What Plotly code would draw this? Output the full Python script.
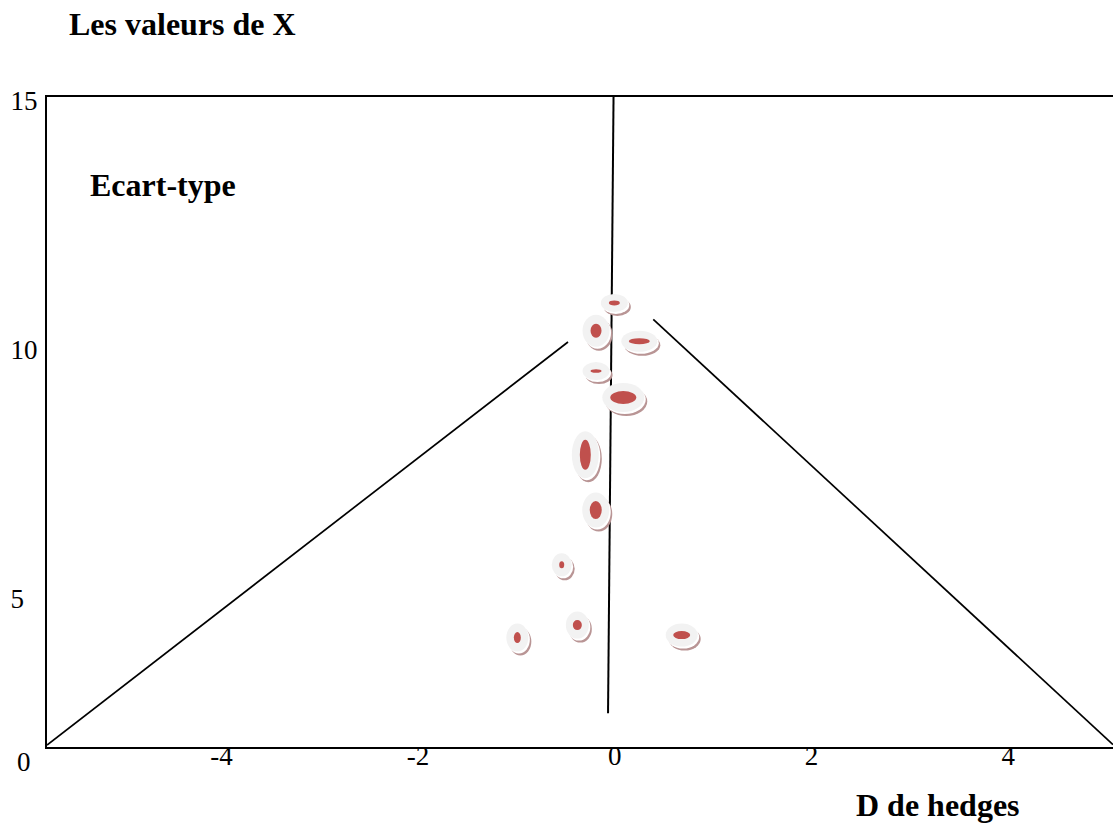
import plotly.graph_objects as go

# ---------------- data ----------------
# effect sizes (Hedges' D) and standard-deviation axis values of each study
d_values = [-0.005, -0.191, 0.249, -0.191, 0.086, -0.300, -0.194, -0.540, -0.381, -0.991, 0.680]
sd_values = [10.94, 10.38, 10.17, 9.57, 9.04, 7.89, 6.78, 5.68, 4.47, 4.22, 4.27]

# funnel boundaries and pooled-effect line
funnel_left_d = [-5.773, -0.476]
funnel_left_sd = [2.062, 10.155]
funnel_right_d = [0.391, 5.065]
funnel_right_sd = [10.61, 2.07]
center_d = [-0.013, -0.069]
center_sd = [15.074, 2.70]

x_tick_values = [-4, -2, 0, 2, 4]
x_tick_labels = ["-4", "-2", "0", "2", "4"]
y_tick_values = [5, 10, 15]
y_tick_labels = ["5\u00a0\u00a0", "10", "15"]

# ---------------- marker styling (pixel sizes of the disc markers) ----------------
outer_w = [27, 27, 36, 27, 42, 27, 27, 20, 23, 22, 32]
outer_h = [18, 32, 21, 18, 29, 47, 35, 23, 27, 28, 23]
inner_w = [11, 11, 21, 11, 26, 11, 12, 5, 9, 7, 17]
inner_h = [5, 14, 6, 3.5, 13, 30, 18, 7, 10, 11, 8]

RED = "#c0504d"
RING = "#f2f2f2"
SHADOW = "#b99595"
FONT = "Liberation Serif"

fig = go.Figure()

line_style = dict(color="black", width=1.7)
fig.add_trace(go.Scatter(x=funnel_left_d, y=funnel_left_sd, mode="lines",
                         line=line_style, hoverinfo="skip", showlegend=False))
fig.add_trace(go.Scatter(x=funnel_right_d, y=funnel_right_sd, mode="lines",
                         line=line_style, hoverinfo="skip", showlegend=False))
fig.add_trace(go.Scatter(x=center_d, y=center_sd, mode="lines",
                         line=dict(color="black", width=2), hoverinfo="skip",
                         showlegend=False))
# invisible points carrying hover info
fig.add_trace(go.Scatter(x=d_values, y=sd_values, mode="markers",
                         marker=dict(size=1, color="rgba(0,0,0,0)"),
                         showlegend=False))


def disc(xa, ya, w, h, dx, dy, color):
    return dict(type="circle", xref="x", yref="y",
                xsizemode="pixel", ysizemode="pixel",
                xanchor=xa, yanchor=ya,
                x0=-w / 2 + dx, x1=w / 2 + dx,
                y0=-h / 2 + dy, y1=h / 2 + dy,
                fillcolor=color, line=dict(width=0), layer="above")


shapes = []
for d, s, ow, oh, iw, ih in zip(d_values, sd_values, outer_w, outer_h, inner_w, inner_h):
    shapes.append(disc(d, s, ow, oh, 3, -4, SHADOW))
    shapes.append(disc(d, s, ow, oh, 1.5, -2, "white"))
    shapes.append(disc(d, s, ow, oh, 0, 0, RING))
    shapes.append(disc(d, s, iw, ih, 0, 0, RED))

fig.update_layout(
    width=1113, height=825,
    margin=dict(l=47, r=0, t=97, b=78),
    paper_bgcolor="white", plot_bgcolor="white",
    shapes=shapes,
    showlegend=False,
    xaxis=dict(range=[-5.773, 5.065], showgrid=False, zeroline=False,
               showline=True, linecolor="black", linewidth=2, mirror=True,
               tickvals=x_tick_values, ticktext=x_tick_labels, ticks="",
               tickfont=dict(family=FONT, size=27, color="black"),
               ticklabelstandoff=-16),
    yaxis=dict(range=[2.022, 15.074], showgrid=False, zeroline=False,
               showline=True, linecolor="black", linewidth=2, mirror=False,
               tickvals=y_tick_values, ticktext=y_tick_labels, ticks="",
               tickfont=dict(family=FONT, size=27, color="black"),
               ticklabelstandoff=2),
    annotations=[
        dict(text="<b>Les valeurs de X</b>", xref="paper", yref="paper",
             x=0.0188, y=1.113, xanchor="left", yanchor="middle", showarrow=False,
             font=dict(family=FONT, size=32, color="black")),
        dict(text="<b>Ecart-type</b>", xref="paper", yref="paper",
             x=0.0385, y=0.865, xanchor="left", yanchor="middle", showarrow=False,
             font=dict(family=FONT, size=32, color="black")),
        dict(text="<b>D de hedges</b>", xref="paper", yref="paper",
             x=0.7575, y=-0.089, xanchor="left", yanchor="middle", showarrow=False,
             font=dict(family=FONT, size=32, color="black")),
        dict(text="0", xref="paper", yref="paper",
             x=-0.0216, y=-0.023, xanchor="center", yanchor="middle", showarrow=False,
             font=dict(family=FONT, size=27, color="black")),
    ],
)

fig.write_html("out.html",
               config={"displayModeBar": False},
               post_script="document.body.style.margin='0';document.body.style.overflow='hidden';")
